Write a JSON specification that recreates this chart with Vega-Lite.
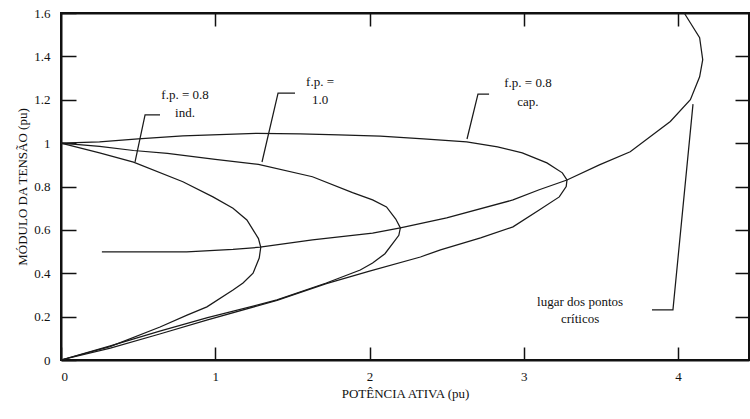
{
  "$schema": "https://vega.github.io/schema/vega-lite/v6.json",
  "width": 688,
  "height": 347,
  "autosize": {"type": "none"},
  "padding": {"left": 61, "top": 13, "right": 1, "bottom": 59},
  "background": "white",
  "config": {
    "view": {"stroke": "#111111", "strokeWidth": 2},
    "font": "Liberation Serif",
    "axis": {
      "grid": false,
      "domainColor": "#111111",
      "domainWidth": 2,
      "tickColor": "#111111",
      "tickWidth": 1.5,
      "labelFont": "Liberation Serif",
      "labelFontSize": 13,
      "labelColor": "#111111",
      "titleFont": "Liberation Serif",
      "titleFontSize": 13,
      "titleFontWeight": "normal",
      "titleColor": "#111111"
    }
  },
  "datasets": {
    "curves": [
      {"curve": "ind", "i": 0, "p": 0, "v": 1},
      {"curve": "ind", "i": 1, "p": 0.25, "v": 0.955},
      {"curve": "ind", "i": 2, "p": 0.47, "v": 0.912},
      {"curve": "ind", "i": 3, "p": 0.79, "v": 0.822},
      {"curve": "ind", "i": 4, "p": 0.985, "v": 0.752},
      {"curve": "ind", "i": 5, "p": 1.115, "v": 0.7},
      {"curve": "ind", "i": 6, "p": 1.205, "v": 0.646},
      {"curve": "ind", "i": 7, "p": 1.245, "v": 0.6},
      {"curve": "ind", "i": 8, "p": 1.28, "v": 0.56},
      {"curve": "ind", "i": 9, "p": 1.295, "v": 0.52},
      {"curve": "ind", "i": 10, "p": 1.285, "v": 0.47},
      {"curve": "ind", "i": 11, "p": 1.245, "v": 0.4},
      {"curve": "ind", "i": 12, "p": 1.18, "v": 0.355},
      {"curve": "ind", "i": 13, "p": 1.115, "v": 0.323},
      {"curve": "ind", "i": 14, "p": 0.946, "v": 0.245},
      {"curve": "ind", "i": 15, "p": 0.817, "v": 0.207},
      {"curve": "ind", "i": 16, "p": 0.642, "v": 0.152},
      {"curve": "ind", "i": 17, "p": 0.318, "v": 0.062},
      {"curve": "ind", "i": 18, "p": 0, "v": 0},

      {"curve": "unit", "i": 0, "p": 0, "v": 1},
      {"curve": "unit", "i": 1, "p": 0.25, "v": 0.985},
      {"curve": "unit", "i": 2, "p": 0.47, "v": 0.966},
      {"curve": "unit", "i": 3, "p": 0.69, "v": 0.953},
      {"curve": "unit", "i": 4, "p": 1.0, "v": 0.925},
      {"curve": "unit", "i": 5, "p": 1.28, "v": 0.902},
      {"curve": "unit", "i": 6, "p": 1.63, "v": 0.845},
      {"curve": "unit", "i": 7, "p": 1.89, "v": 0.772},
      {"curve": "unit", "i": 8, "p": 2.02, "v": 0.738},
      {"curve": "unit", "i": 9, "p": 2.11, "v": 0.706},
      {"curve": "unit", "i": 10, "p": 2.17, "v": 0.65},
      {"curve": "unit", "i": 11, "p": 2.2, "v": 0.609},
      {"curve": "unit", "i": 12, "p": 2.19, "v": 0.575},
      {"curve": "unit", "i": 13, "p": 2.152, "v": 0.539},
      {"curve": "unit", "i": 14, "p": 2.1, "v": 0.49},
      {"curve": "unit", "i": 15, "p": 2.02, "v": 0.447},
      {"curve": "unit", "i": 16, "p": 1.94, "v": 0.415},
      {"curve": "unit", "i": 17, "p": 1.72, "v": 0.355},
      {"curve": "unit", "i": 18, "p": 1.4, "v": 0.277},
      {"curve": "unit", "i": 19, "p": 0.95, "v": 0.195},
      {"curve": "unit", "i": 20, "p": 0.64, "v": 0.133},
      {"curve": "unit", "i": 21, "p": 0.32, "v": 0.065},
      {"curve": "unit", "i": 22, "p": 0, "v": 0},

      {"curve": "cap", "i": 0, "p": 0, "v": 1},
      {"curve": "cap", "i": 1, "p": 0.25, "v": 1.006},
      {"curve": "cap", "i": 2, "p": 0.5, "v": 1.02},
      {"curve": "cap", "i": 3, "p": 0.79, "v": 1.033},
      {"curve": "cap", "i": 4, "p": 1.27, "v": 1.045},
      {"curve": "cap", "i": 5, "p": 1.55, "v": 1.043},
      {"curve": "cap", "i": 6, "p": 1.8, "v": 1.038},
      {"curve": "cap", "i": 7, "p": 2.07, "v": 1.032},
      {"curve": "cap", "i": 8, "p": 2.35, "v": 1.02},
      {"curve": "cap", "i": 9, "p": 2.63, "v": 1.006},
      {"curve": "cap", "i": 10, "p": 2.83, "v": 0.983},
      {"curve": "cap", "i": 11, "p": 2.99, "v": 0.955},
      {"curve": "cap", "i": 12, "p": 3.15, "v": 0.909},
      {"curve": "cap", "i": 13, "p": 3.25, "v": 0.863},
      {"curve": "cap", "i": 14, "p": 3.28, "v": 0.83},
      {"curve": "cap", "i": 15, "p": 3.275, "v": 0.8},
      {"curve": "cap", "i": 16, "p": 3.23, "v": 0.752},
      {"curve": "cap", "i": 17, "p": 3.1, "v": 0.692},
      {"curve": "cap", "i": 18, "p": 2.93, "v": 0.614},
      {"curve": "cap", "i": 19, "p": 2.72, "v": 0.563},
      {"curve": "cap", "i": 20, "p": 2.46, "v": 0.508},
      {"curve": "cap", "i": 21, "p": 2.33, "v": 0.475},
      {"curve": "cap", "i": 22, "p": 2.0, "v": 0.41},
      {"curve": "cap", "i": 23, "p": 1.72, "v": 0.352},
      {"curve": "cap", "i": 24, "p": 1.4, "v": 0.275},
      {"curve": "cap", "i": 25, "p": 0.95, "v": 0.185},
      {"curve": "cap", "i": 26, "p": 0.64, "v": 0.12},
      {"curve": "cap", "i": 27, "p": 0.32, "v": 0.055},
      {"curve": "cap", "i": 28, "p": 0, "v": 0},

      {"curve": "locus", "i": 0, "p": 0.265, "v": 0.498},
      {"curve": "locus", "i": 1, "p": 0.815, "v": 0.498},
      {"curve": "locus", "i": 2, "p": 1.115, "v": 0.51},
      {"curve": "locus", "i": 3, "p": 1.29, "v": 0.52},
      {"curve": "locus", "i": 4, "p": 1.63, "v": 0.554},
      {"curve": "locus", "i": 5, "p": 2.02, "v": 0.585},
      {"curve": "locus", "i": 6, "p": 2.2, "v": 0.609},
      {"curve": "locus", "i": 7, "p": 2.5, "v": 0.655},
      {"curve": "locus", "i": 8, "p": 2.93, "v": 0.738},
      {"curve": "locus", "i": 9, "p": 3.1, "v": 0.785},
      {"curve": "locus", "i": 10, "p": 3.28, "v": 0.83},
      {"curve": "locus", "i": 11, "p": 3.49, "v": 0.9},
      {"curve": "locus", "i": 12, "p": 3.69, "v": 0.96},
      {"curve": "locus", "i": 13, "p": 3.95, "v": 1.1},
      {"curve": "locus", "i": 14, "p": 4.08, "v": 1.2},
      {"curve": "locus", "i": 15, "p": 4.14, "v": 1.306},
      {"curve": "locus", "i": 16, "p": 4.16, "v": 1.385},
      {"curve": "locus", "i": 17, "p": 4.14, "v": 1.486},
      {"curve": "locus", "i": 18, "p": 4.04, "v": 1.6},

      {"curve": "leader ind", "i": 0, "p": 0.642, "v": 1.13},
      {"curve": "leader ind", "i": 1, "p": 0.545, "v": 1.13},
      {"curve": "leader ind", "i": 2, "p": 0.48, "v": 0.913},
      {"curve": "leader unit", "i": 0, "p": 1.517, "v": 1.231},
      {"curve": "leader unit", "i": 1, "p": 1.407, "v": 1.231},
      {"curve": "leader unit", "i": 2, "p": 1.303, "v": 0.913},
      {"curve": "leader cap", "i": 0, "p": 2.775, "v": 1.226},
      {"curve": "leader cap", "i": 1, "p": 2.703, "v": 1.226},
      {"curve": "leader cap", "i": 2, "p": 2.632, "v": 1.019},
      {"curve": "leader locus", "i": 0, "p": 3.831, "v": 0.231},
      {"curve": "leader locus", "i": 1, "p": 3.967, "v": 0.231},
      {"curve": "leader locus", "i": 2, "p": 4.097, "v": 1.18}
    ],
    "labels": [
      {"t": "f.p. = 0.8", "p": 0.804, "v": 1.222},
      {"t": "ind.", "p": 0.804, "v": 1.139},
      {"t": "f.p. =", "p": 1.679, "v": 1.283},
      {"t": "1.0", "p": 1.679, "v": 1.199},
      {"t": "f.p. = 0.8", "p": 3.027, "v": 1.277},
      {"t": "cap.", "p": 3.027, "v": 1.19},
      {"t": "lugar dos pontos", "p": 3.365, "v": 0.267},
      {"t": "críticos", "p": 3.365, "v": 0.189}
    ]
  },
  "layer": [
    {
      "data": {"name": "curves"},
      "mark": {"type": "line", "color": "#1a1a1a", "strokeWidth": 1.25},
      "encoding": {
        "x": {
          "field": "p", "type": "quantitative",
          "scale": {"domain": [0, 4.46], "nice": false, "zero": false},
          "axis": {"orient": "bottom", "values": [0, 1, 2, 3, 4], "format": "d", "tickSize": -13, "labelPadding": 23, "title": "POTÊNCIA ATIVA (pu)"}
        },
        "y": {
          "field": "v", "type": "quantitative",
          "scale": {"domain": [0, 1.6], "nice": false},
          "axis": {"orient": "left", "values": [0, 0.2, 0.4, 0.6, 0.8, 1, 1.2, 1.4, 1.6], "format": "~g", "tickSize": -15, "labelPadding": 26, "title": "MÓDULO DA TENSÃO (pu)"}
        },
        "detail": {"field": "curve"},
        "order": {"field": "i"}
      }
    },
    {
      "data": {"name": "labels"},
      "mark": {"type": "text", "font": "Liberation Serif", "fontSize": 13, "color": "#111111", "align": "center", "baseline": "middle"},
      "encoding": {
        "x": {
          "field": "p", "type": "quantitative",
          "scale": {"domain": [0, 4.46], "nice": false, "zero": false},
          "axis": {"orient": "top", "values": [1, 2, 3, 4], "labels": false, "tickSize": -13, "title": null}
        },
        "y": {
          "field": "v", "type": "quantitative",
          "scale": {"domain": [0, 1.6], "nice": false},
          "axis": {"orient": "right", "values": [0.2, 0.4, 0.6, 0.8, 1, 1.2, 1.4], "labels": false, "tickSize": -14, "title": null}
        },
        "text": {"field": "t"}
      }
    }
  ],
  "resolve": {"axis": {"x": "independent", "y": "independent"}}
}
